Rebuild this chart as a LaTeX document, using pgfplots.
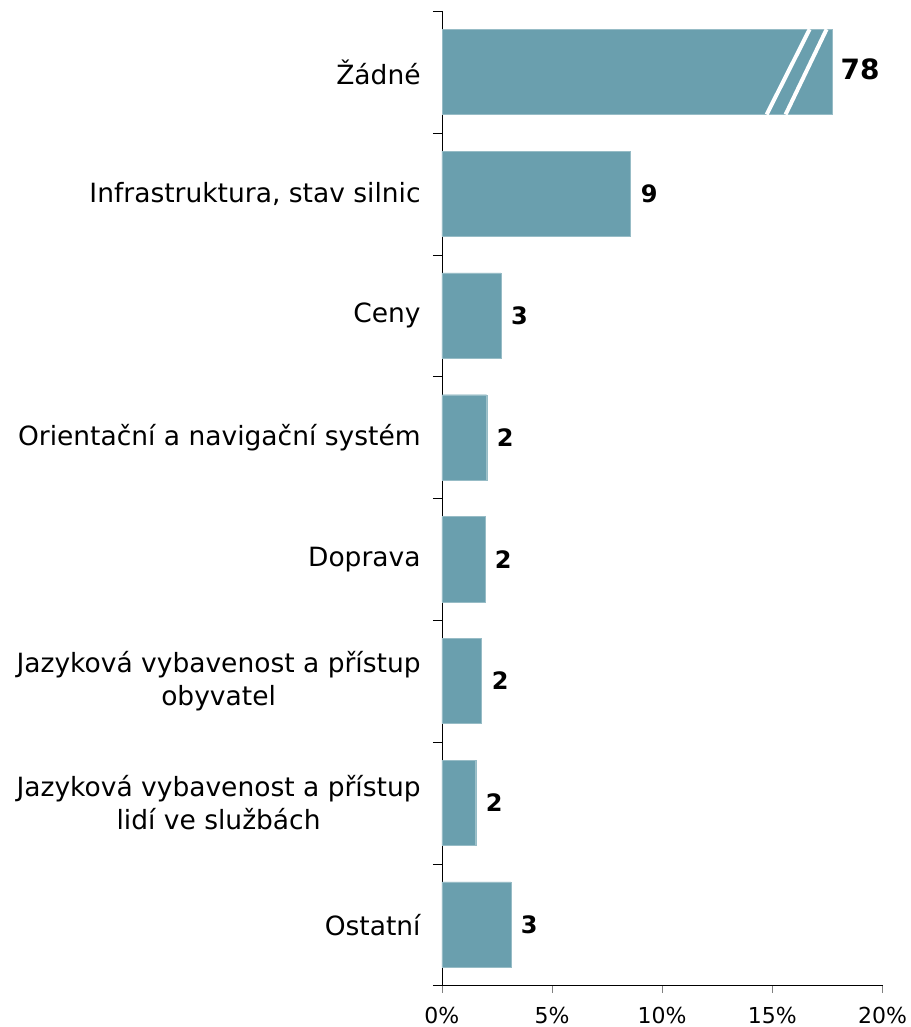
\documentclass[border=0pt]{standalone}
\usepackage{pgfplots}
\pgfplotsset{compat=1.18}
\usepackage{pgfplotstable}
\usepackage{fontspec}
\setmainfont{DejaVu Sans}
\definecolor{barcol}{RGB}{106,159,174}

\pgfplotstableread{
y x lab
1 8.57 9
2 2.68 3
3 2.04 2
4 1.95 2
5 1.81 2
6 1.54 2
7 3.13 3
}\data
\pgfplotstableread{
y x lab
0 17.73 78
}\first

\begin{document}
\begin{tikzpicture}
\begin{axis}[
scale only axis,
width=441pt, height=975pt,
xmin=0, xmax=20,
ymin=-0.5, ymax=7.5,
y dir=reverse,
axis x line=bottom,
axis y line=left,
axis line style={black, -},
tick align=outside,
major tick length=7pt,
minor tick length=9pt,
xtick={0,5,10,15,20},
xticklabel={\pgfmathprintnumber{\tick}\%},
x tick style={gray},
ytick={0,...,7},
y tick style={black},
major y tick style={draw=none},
minor ytick={-0.5,0.5,...,7.5},
yticklabels={Žádné, {Infrastruktura, stav silnic}, Ceny, Orientační a navigační systém, Doprava, {Jazyková vybavenost a přístup\\obyvatel}, {Jazyková vybavenost a přístup\\lidí ve službách}, Ostatní},
yticklabel style={align=center, font=\fontsize{26.5}{33}\selectfont, inner sep=0pt, xshift=-14pt},
xticklabel style={font=\fontsize{22}{26}\selectfont, yshift=-11pt},
/pgf/number format/assume math mode=true,
]
\addplot[xbar, fill=barcol, draw=barcol!70!white, bar width=0.7,
  nodes near coords, point meta=explicit symbolic,
  nodes near coords style={font=\bfseries\fontsize{24}{28}\selectfont, anchor=west, inner sep=0pt, xshift=10pt}]
  table[x=x, y=y, meta=lab]{\data};
\addplot[xbar, fill=barcol, draw=barcol!70!white, bar width=0.7,
  nodes near coords, point meta=explicit symbolic,
  nodes near coords style={font=\bfseries\fontsize{28}{32}\selectfont, anchor=west, inner sep=0pt, xshift=8pt, yshift=3pt}]
  table[x=x, y=y, meta=lab]{\first};
\draw[white, line width=4pt] (axis cs:16.69,-0.35) -- (axis cs:14.74,0.35);
\draw[white, line width=4pt] (axis cs:17.46,-0.35) -- (axis cs:15.60,0.35);
\end{axis}
\path (-442pt,-41pt) rectangle (466pt,986pt);
\end{tikzpicture}
\end{document}
